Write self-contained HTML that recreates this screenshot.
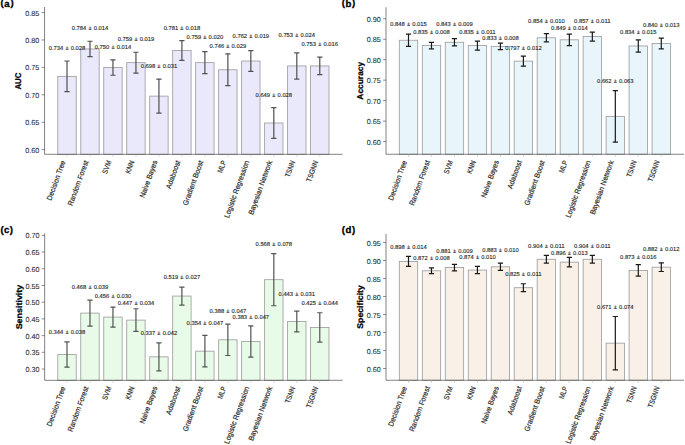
<!DOCTYPE html>
<html><head><meta charset="utf-8"><style>
html,body{margin:0;padding:0;background:#fff;}
svg{display:block;font-family:"Liberation Sans",sans-serif;text-rendering:geometricPrecision;}
</style></head><body>
<svg width="685" height="445" viewBox="0 0 685 445">
<style>.t{stroke:#262626;stroke-width:0.18px;} .v{stroke:#262626;stroke-width:0.12px;} .k{stroke:#262626;stroke-width:0.06px;}</style>
<rect width="685" height="445" fill="#fff"/>
<rect x="57.80" y="76.36" width="18.40" height="77.94" fill="#eae8fb" stroke="#999" stroke-width="0.8"/>
<rect x="80.78" y="48.94" width="18.40" height="105.36" fill="#eae8fb" stroke="#999" stroke-width="0.8"/>
<rect x="103.76" y="67.59" width="18.40" height="86.71" fill="#eae8fb" stroke="#999" stroke-width="0.8"/>
<rect x="126.74" y="62.65" width="18.40" height="91.65" fill="#eae8fb" stroke="#999" stroke-width="0.8"/>
<rect x="149.72" y="96.11" width="18.40" height="58.19" fill="#eae8fb" stroke="#999" stroke-width="0.8"/>
<rect x="172.70" y="50.58" width="18.40" height="103.72" fill="#eae8fb" stroke="#999" stroke-width="0.8"/>
<rect x="195.68" y="62.65" width="18.40" height="91.65" fill="#eae8fb" stroke="#999" stroke-width="0.8"/>
<rect x="218.66" y="69.78" width="18.40" height="84.52" fill="#eae8fb" stroke="#999" stroke-width="0.8"/>
<rect x="241.64" y="61.01" width="18.40" height="93.29" fill="#eae8fb" stroke="#999" stroke-width="0.8"/>
<rect x="264.62" y="122.99" width="18.40" height="31.31" fill="#eae8fb" stroke="#999" stroke-width="0.8"/>
<rect x="287.60" y="65.94" width="18.40" height="88.36" fill="#eae8fb" stroke="#999" stroke-width="0.8"/>
<rect x="310.58" y="65.94" width="18.40" height="88.36" fill="#eae8fb" stroke="#999" stroke-width="0.8"/>
<path d="M67.00 61.01V91.72M64.40 61.01H69.60M64.40 91.72H69.60" stroke="#505050" stroke-width="1.2" fill="none"/>
<path d="M89.98 41.26V56.62M87.38 41.26H92.58M87.38 56.62H92.58" stroke="#505050" stroke-width="1.2" fill="none"/>
<path d="M112.96 59.91V75.27M110.36 59.91H115.56M110.36 75.27H115.56" stroke="#505050" stroke-width="1.2" fill="none"/>
<path d="M135.94 52.23V73.07M133.34 52.23H138.54M133.34 73.07H138.54" stroke="#505050" stroke-width="1.2" fill="none"/>
<path d="M158.92 79.11V113.11M156.32 79.11H161.52M156.32 113.11H161.52" stroke="#505050" stroke-width="1.2" fill="none"/>
<path d="M181.90 40.71V60.46M179.30 40.71H184.50M179.30 60.46H184.50" stroke="#505050" stroke-width="1.2" fill="none"/>
<path d="M204.88 51.68V73.62M202.28 51.68H207.48M202.28 73.62H207.48" stroke="#505050" stroke-width="1.2" fill="none"/>
<path d="M227.86 53.87V85.69M225.26 53.87H230.46M225.26 85.69H230.46" stroke="#505050" stroke-width="1.2" fill="none"/>
<path d="M250.84 50.58V71.43M248.24 50.58H253.44M248.24 71.43H253.44" stroke="#505050" stroke-width="1.2" fill="none"/>
<path d="M273.82 107.63V138.34M271.22 107.63H276.42M271.22 138.34H276.42" stroke="#505050" stroke-width="1.2" fill="none"/>
<path d="M296.80 52.78V79.11M294.20 52.78H299.40M294.20 79.11H299.40" stroke="#505050" stroke-width="1.2" fill="none"/>
<path d="M319.78 57.17V74.72M317.18 57.17H322.38M317.18 74.72H322.38" stroke="#505050" stroke-width="1.2" fill="none"/>
<path d="M44.55 7.00V154.30H342.55" stroke="#404040" stroke-width="0.65" fill="none"/>
<path d="M41.65 149.66H44.55" stroke="#404040" stroke-width="0.6"/>
<text x="39.35" y="152.66" text-anchor="end" font-size="7.35" textLength="14.03" lengthAdjust="spacingAndGlyphs" fill="#262626" class="k">0.60</text>
<path d="M41.65 122.24H44.55" stroke="#404040" stroke-width="0.6"/>
<text x="39.35" y="125.24" text-anchor="end" font-size="7.35" textLength="14.03" lengthAdjust="spacingAndGlyphs" fill="#262626" class="k">0.65</text>
<path d="M41.65 94.81H44.55" stroke="#404040" stroke-width="0.6"/>
<text x="39.35" y="97.81" text-anchor="end" font-size="7.35" textLength="14.03" lengthAdjust="spacingAndGlyphs" fill="#262626" class="k">0.70</text>
<path d="M41.65 67.39H44.55" stroke="#404040" stroke-width="0.6"/>
<text x="39.35" y="70.39" text-anchor="end" font-size="7.35" textLength="14.03" lengthAdjust="spacingAndGlyphs" fill="#262626" class="k">0.75</text>
<path d="M41.65 39.96H44.55" stroke="#404040" stroke-width="0.6"/>
<text x="39.35" y="42.96" text-anchor="end" font-size="7.35" textLength="14.03" lengthAdjust="spacingAndGlyphs" fill="#262626" class="k">0.80</text>
<path d="M41.65 12.54H44.55" stroke="#404040" stroke-width="0.6"/>
<text x="39.35" y="15.54" text-anchor="end" font-size="7.35" textLength="14.03" lengthAdjust="spacingAndGlyphs" fill="#262626" class="k">0.85</text>
<path d="M67.00 154.30V156.50" stroke="#b0b0b0" stroke-width="0.7"/>
<text transform="translate(65.60 161.60) rotate(-70)" text-anchor="end" font-size="7.4" textLength="41.95" lengthAdjust="spacingAndGlyphs" fill="#262626" class="t">Decision Tree</text>
<path d="M89.98 154.30V156.50" stroke="#b0b0b0" stroke-width="0.7"/>
<text transform="translate(88.58 161.60) rotate(-70)" text-anchor="end" font-size="7.4" textLength="47.42" lengthAdjust="spacingAndGlyphs" fill="#262626" class="t">Random Forest</text>
<path d="M112.96 154.30V156.50" stroke="#b0b0b0" stroke-width="0.7"/>
<text transform="translate(111.56 161.60) rotate(-70)" text-anchor="end" font-size="7.4" textLength="13.74" lengthAdjust="spacingAndGlyphs" fill="#262626" class="t">SVM</text>
<path d="M135.94 154.30V156.50" stroke="#b0b0b0" stroke-width="0.7"/>
<text transform="translate(134.54 161.60) rotate(-70)" text-anchor="end" font-size="7.4" textLength="13.56" lengthAdjust="spacingAndGlyphs" fill="#262626" class="t">KNN</text>
<path d="M158.92 154.30V156.50" stroke="#b0b0b0" stroke-width="0.7"/>
<text transform="translate(157.52 161.60) rotate(-70)" text-anchor="end" font-size="7.4" textLength="39.00" lengthAdjust="spacingAndGlyphs" fill="#262626" class="t">Naive Bayes</text>
<path d="M181.90 154.30V156.50" stroke="#b0b0b0" stroke-width="0.7"/>
<text transform="translate(180.50 161.60) rotate(-70)" text-anchor="end" font-size="7.4" textLength="29.52" lengthAdjust="spacingAndGlyphs" fill="#262626" class="t">Adaboost</text>
<path d="M204.88 154.30V156.50" stroke="#b0b0b0" stroke-width="0.7"/>
<text transform="translate(203.48 161.60) rotate(-70)" text-anchor="end" font-size="7.4" textLength="47.21" lengthAdjust="spacingAndGlyphs" fill="#262626" class="t">Gradient Boost</text>
<path d="M227.86 154.30V156.50" stroke="#b0b0b0" stroke-width="0.7"/>
<text transform="translate(226.46 161.60) rotate(-70)" text-anchor="end" font-size="7.4" textLength="12.74" lengthAdjust="spacingAndGlyphs" fill="#262626" class="t">MLP</text>
<path d="M250.84 154.30V156.50" stroke="#b0b0b0" stroke-width="0.7"/>
<text transform="translate(249.44 161.60) rotate(-70)" text-anchor="end" font-size="7.4" textLength="60.43" lengthAdjust="spacingAndGlyphs" fill="#262626" class="t">Logistic Regression</text>
<path d="M273.82 154.30V156.50" stroke="#b0b0b0" stroke-width="0.7"/>
<text transform="translate(272.42 161.60) rotate(-70)" text-anchor="end" font-size="7.4" textLength="56.98" lengthAdjust="spacingAndGlyphs" fill="#262626" class="t">Bayesian Network</text>
<path d="M296.80 154.30V156.50" stroke="#b0b0b0" stroke-width="0.7"/>
<text transform="translate(295.40 161.60) rotate(-70)" text-anchor="end" font-size="7.4" textLength="17.27" lengthAdjust="spacingAndGlyphs" fill="#262626" class="t">TSNN</text>
<path d="M319.78 154.30V156.50" stroke="#b0b0b0" stroke-width="0.7"/>
<text transform="translate(318.38 161.60) rotate(-70)" text-anchor="end" font-size="7.4" textLength="22.15" lengthAdjust="spacingAndGlyphs" fill="#262626" class="t">TSGNN</text>
<g fill="#262626" font-size="5.7" class="v"><text x="48.75" y="49.50" textLength="14.51" lengthAdjust="spacingAndGlyphs">0.734</text><text x="67.00" y="49.50" text-anchor="middle">±</text><text x="70.74" y="49.50" textLength="14.51" lengthAdjust="spacingAndGlyphs">0.028</text></g>
<g fill="#262626" font-size="5.7" class="v"><text x="71.73" y="30.20" textLength="14.51" lengthAdjust="spacingAndGlyphs">0.784</text><text x="89.98" y="30.20" text-anchor="middle">±</text><text x="93.72" y="30.20" textLength="14.51" lengthAdjust="spacingAndGlyphs">0.014</text></g>
<g fill="#262626" font-size="5.7" class="v"><text x="94.71" y="49.20" textLength="14.51" lengthAdjust="spacingAndGlyphs">0.750</text><text x="112.96" y="49.20" text-anchor="middle">±</text><text x="116.70" y="49.20" textLength="14.51" lengthAdjust="spacingAndGlyphs">0.014</text></g>
<g fill="#262626" font-size="5.7" class="v"><text x="117.69" y="41.20" textLength="14.51" lengthAdjust="spacingAndGlyphs">0.759</text><text x="135.94" y="41.20" text-anchor="middle">±</text><text x="139.68" y="41.20" textLength="14.51" lengthAdjust="spacingAndGlyphs">0.019</text></g>
<g fill="#262626" font-size="5.7" class="v"><text x="140.67" y="68.20" textLength="14.51" lengthAdjust="spacingAndGlyphs">0.698</text><text x="158.92" y="68.20" text-anchor="middle">±</text><text x="162.66" y="68.20" textLength="14.51" lengthAdjust="spacingAndGlyphs">0.031</text></g>
<g fill="#262626" font-size="5.7" class="v"><text x="163.65" y="29.80" textLength="14.51" lengthAdjust="spacingAndGlyphs">0.781</text><text x="181.90" y="29.80" text-anchor="middle">±</text><text x="185.64" y="29.80" textLength="14.51" lengthAdjust="spacingAndGlyphs">0.018</text></g>
<g fill="#262626" font-size="5.7" class="v"><text x="186.63" y="39.00" textLength="14.51" lengthAdjust="spacingAndGlyphs">0.759</text><text x="204.88" y="39.00" text-anchor="middle">±</text><text x="208.62" y="39.00" textLength="14.51" lengthAdjust="spacingAndGlyphs">0.020</text></g>
<g fill="#262626" font-size="5.7" class="v"><text x="209.61" y="48.40" textLength="14.51" lengthAdjust="spacingAndGlyphs">0.746</text><text x="227.86" y="48.40" text-anchor="middle">±</text><text x="231.60" y="48.40" textLength="14.51" lengthAdjust="spacingAndGlyphs">0.029</text></g>
<g fill="#262626" font-size="5.7" class="v"><text x="232.59" y="38.00" textLength="14.51" lengthAdjust="spacingAndGlyphs">0.762</text><text x="250.84" y="38.00" text-anchor="middle">±</text><text x="254.58" y="38.00" textLength="14.51" lengthAdjust="spacingAndGlyphs">0.019</text></g>
<g fill="#262626" font-size="5.7" class="v"><text x="255.57" y="97.00" textLength="14.51" lengthAdjust="spacingAndGlyphs">0.649</text><text x="273.82" y="97.00" text-anchor="middle">±</text><text x="277.56" y="97.00" textLength="14.51" lengthAdjust="spacingAndGlyphs">0.028</text></g>
<g fill="#262626" font-size="5.7" class="v"><text x="278.55" y="37.40" textLength="14.51" lengthAdjust="spacingAndGlyphs">0.753</text><text x="296.80" y="37.40" text-anchor="middle">±</text><text x="300.54" y="37.40" textLength="14.51" lengthAdjust="spacingAndGlyphs">0.024</text></g>
<g fill="#262626" font-size="5.7" class="v"><text x="301.53" y="46.30" textLength="14.51" lengthAdjust="spacingAndGlyphs">0.753</text><text x="319.78" y="46.30" text-anchor="middle">±</text><text x="323.52" y="46.30" textLength="14.51" lengthAdjust="spacingAndGlyphs">0.016</text></g>
<text transform="translate(21.45 81.10) rotate(-90)" text-anchor="middle" font-size="8.4" font-weight="bold" textLength="17.03" lengthAdjust="spacingAndGlyphs" fill="#000" stroke="#000" stroke-width="0.25">AUC</text>
<rect x="399.30" y="40.24" width="18.40" height="114.01" fill="#e8f6fb" stroke="#999" stroke-width="0.8"/>
<rect x="422.28" y="45.57" width="18.40" height="108.68" fill="#e8f6fb" stroke="#999" stroke-width="0.8"/>
<rect x="445.26" y="42.29" width="18.40" height="111.96" fill="#e8f6fb" stroke="#999" stroke-width="0.8"/>
<rect x="468.24" y="45.57" width="18.40" height="108.68" fill="#e8f6fb" stroke="#999" stroke-width="0.8"/>
<rect x="491.22" y="46.38" width="18.40" height="107.87" fill="#e8f6fb" stroke="#999" stroke-width="0.8"/>
<rect x="514.20" y="61.12" width="18.40" height="93.13" fill="#e8f6fb" stroke="#999" stroke-width="0.8"/>
<rect x="537.18" y="37.79" width="18.40" height="116.46" fill="#e8f6fb" stroke="#999" stroke-width="0.8"/>
<rect x="560.16" y="39.83" width="18.40" height="114.42" fill="#e8f6fb" stroke="#999" stroke-width="0.8"/>
<rect x="583.14" y="36.56" width="18.40" height="117.69" fill="#e8f6fb" stroke="#999" stroke-width="0.8"/>
<rect x="606.12" y="116.37" width="18.40" height="37.88" fill="#e8f6fb" stroke="#999" stroke-width="0.8"/>
<rect x="629.10" y="45.97" width="18.40" height="108.28" fill="#e8f6fb" stroke="#999" stroke-width="0.8"/>
<rect x="652.08" y="43.52" width="18.40" height="110.73" fill="#e8f6fb" stroke="#999" stroke-width="0.8"/>
<path d="M408.50 34.10V46.38M405.90 34.10H411.10M405.90 46.38H411.10" stroke="#1a1a1a" stroke-width="1.2" fill="none"/>
<path d="M431.48 42.29V48.84M428.88 42.29H434.08M428.88 48.84H434.08" stroke="#1a1a1a" stroke-width="1.2" fill="none"/>
<path d="M454.46 38.61V45.97M451.86 38.61H457.06M451.86 45.97H457.06" stroke="#1a1a1a" stroke-width="1.2" fill="none"/>
<path d="M477.44 41.06V50.07M474.84 41.06H480.04M474.84 50.07H480.04" stroke="#1a1a1a" stroke-width="1.2" fill="none"/>
<path d="M500.42 43.11V49.66M497.82 43.11H503.02M497.82 49.66H503.02" stroke="#1a1a1a" stroke-width="1.2" fill="none"/>
<path d="M523.40 56.21V66.03M520.80 56.21H526.00M520.80 66.03H526.00" stroke="#1a1a1a" stroke-width="1.2" fill="none"/>
<path d="M546.38 33.70V41.88M543.78 33.70H548.98M543.78 41.88H548.98" stroke="#1a1a1a" stroke-width="1.2" fill="none"/>
<path d="M569.36 34.10V45.57M566.76 34.10H571.96M566.76 45.57H571.96" stroke="#1a1a1a" stroke-width="1.2" fill="none"/>
<path d="M592.34 32.06V41.06M589.74 32.06H594.94M589.74 41.06H594.94" stroke="#1a1a1a" stroke-width="1.2" fill="none"/>
<path d="M615.32 90.59V142.16M612.72 90.59H617.92M612.72 142.16H617.92" stroke="#1a1a1a" stroke-width="1.2" fill="none"/>
<path d="M638.30 39.83V52.11M635.70 39.83H640.90M635.70 52.11H640.90" stroke="#1a1a1a" stroke-width="1.2" fill="none"/>
<path d="M661.28 38.20V48.84M658.68 38.20H663.88M658.68 48.84H663.88" stroke="#1a1a1a" stroke-width="1.2" fill="none"/>
<path d="M386.00 7.20V154.25H684.00" stroke="#404040" stroke-width="0.65" fill="none"/>
<path d="M383.10 141.55H386.00" stroke="#404040" stroke-width="0.6"/>
<text x="380.80" y="144.55" text-anchor="end" font-size="7.35" textLength="14.03" lengthAdjust="spacingAndGlyphs" fill="#262626" class="k">0.60</text>
<path d="M383.10 121.09H386.00" stroke="#404040" stroke-width="0.6"/>
<text x="380.80" y="124.09" text-anchor="end" font-size="7.35" textLength="14.03" lengthAdjust="spacingAndGlyphs" fill="#262626" class="k">0.65</text>
<path d="M383.10 100.62H386.00" stroke="#404040" stroke-width="0.6"/>
<text x="380.80" y="103.62" text-anchor="end" font-size="7.35" textLength="14.03" lengthAdjust="spacingAndGlyphs" fill="#262626" class="k">0.70</text>
<path d="M383.10 80.16H386.00" stroke="#404040" stroke-width="0.6"/>
<text x="380.80" y="83.16" text-anchor="end" font-size="7.35" textLength="14.03" lengthAdjust="spacingAndGlyphs" fill="#262626" class="k">0.75</text>
<path d="M383.10 59.69H386.00" stroke="#404040" stroke-width="0.6"/>
<text x="380.80" y="62.69" text-anchor="end" font-size="7.35" textLength="14.03" lengthAdjust="spacingAndGlyphs" fill="#262626" class="k">0.80</text>
<path d="M383.10 39.23H386.00" stroke="#404040" stroke-width="0.6"/>
<text x="380.80" y="42.23" text-anchor="end" font-size="7.35" textLength="14.03" lengthAdjust="spacingAndGlyphs" fill="#262626" class="k">0.85</text>
<path d="M383.10 18.76H386.00" stroke="#404040" stroke-width="0.6"/>
<text x="380.80" y="21.76" text-anchor="end" font-size="7.35" textLength="14.03" lengthAdjust="spacingAndGlyphs" fill="#262626" class="k">0.90</text>
<path d="M408.50 154.25V156.45" stroke="#b0b0b0" stroke-width="0.7"/>
<text transform="translate(407.10 161.55) rotate(-70)" text-anchor="end" font-size="7.4" textLength="41.95" lengthAdjust="spacingAndGlyphs" fill="#262626" class="t">Decision Tree</text>
<path d="M431.48 154.25V156.45" stroke="#b0b0b0" stroke-width="0.7"/>
<text transform="translate(430.08 161.55) rotate(-70)" text-anchor="end" font-size="7.4" textLength="47.42" lengthAdjust="spacingAndGlyphs" fill="#262626" class="t">Random Forest</text>
<path d="M454.46 154.25V156.45" stroke="#b0b0b0" stroke-width="0.7"/>
<text transform="translate(453.06 161.55) rotate(-70)" text-anchor="end" font-size="7.4" textLength="13.74" lengthAdjust="spacingAndGlyphs" fill="#262626" class="t">SVM</text>
<path d="M477.44 154.25V156.45" stroke="#b0b0b0" stroke-width="0.7"/>
<text transform="translate(476.04 161.55) rotate(-70)" text-anchor="end" font-size="7.4" textLength="13.56" lengthAdjust="spacingAndGlyphs" fill="#262626" class="t">KNN</text>
<path d="M500.42 154.25V156.45" stroke="#b0b0b0" stroke-width="0.7"/>
<text transform="translate(499.02 161.55) rotate(-70)" text-anchor="end" font-size="7.4" textLength="39.00" lengthAdjust="spacingAndGlyphs" fill="#262626" class="t">Naive Bayes</text>
<path d="M523.40 154.25V156.45" stroke="#b0b0b0" stroke-width="0.7"/>
<text transform="translate(522.00 161.55) rotate(-70)" text-anchor="end" font-size="7.4" textLength="29.52" lengthAdjust="spacingAndGlyphs" fill="#262626" class="t">Adaboost</text>
<path d="M546.38 154.25V156.45" stroke="#b0b0b0" stroke-width="0.7"/>
<text transform="translate(544.98 161.55) rotate(-70)" text-anchor="end" font-size="7.4" textLength="47.21" lengthAdjust="spacingAndGlyphs" fill="#262626" class="t">Gradient Boost</text>
<path d="M569.36 154.25V156.45" stroke="#b0b0b0" stroke-width="0.7"/>
<text transform="translate(567.96 161.55) rotate(-70)" text-anchor="end" font-size="7.4" textLength="12.74" lengthAdjust="spacingAndGlyphs" fill="#262626" class="t">MLP</text>
<path d="M592.34 154.25V156.45" stroke="#b0b0b0" stroke-width="0.7"/>
<text transform="translate(590.94 161.55) rotate(-70)" text-anchor="end" font-size="7.4" textLength="60.43" lengthAdjust="spacingAndGlyphs" fill="#262626" class="t">Logistic Regression</text>
<path d="M615.32 154.25V156.45" stroke="#b0b0b0" stroke-width="0.7"/>
<text transform="translate(613.92 161.55) rotate(-70)" text-anchor="end" font-size="7.4" textLength="56.98" lengthAdjust="spacingAndGlyphs" fill="#262626" class="t">Bayesian Network</text>
<path d="M638.30 154.25V156.45" stroke="#b0b0b0" stroke-width="0.7"/>
<text transform="translate(636.90 161.55) rotate(-70)" text-anchor="end" font-size="7.4" textLength="17.27" lengthAdjust="spacingAndGlyphs" fill="#262626" class="t">TSNN</text>
<path d="M661.28 154.25V156.45" stroke="#b0b0b0" stroke-width="0.7"/>
<text transform="translate(659.88 161.55) rotate(-70)" text-anchor="end" font-size="7.4" textLength="22.15" lengthAdjust="spacingAndGlyphs" fill="#262626" class="t">TSGNN</text>
<g fill="#262626" font-size="5.7" class="v"><text x="390.25" y="26.00" textLength="14.51" lengthAdjust="spacingAndGlyphs">0.848</text><text x="408.50" y="26.00" text-anchor="middle">±</text><text x="412.24" y="26.00" textLength="14.51" lengthAdjust="spacingAndGlyphs">0.015</text></g>
<g fill="#262626" font-size="5.7" class="v"><text x="413.23" y="34.00" textLength="14.51" lengthAdjust="spacingAndGlyphs">0.835</text><text x="431.48" y="34.00" text-anchor="middle">±</text><text x="435.22" y="34.00" textLength="14.51" lengthAdjust="spacingAndGlyphs">0.008</text></g>
<g fill="#262626" font-size="5.7" class="v"><text x="436.21" y="26.20" textLength="14.51" lengthAdjust="spacingAndGlyphs">0.843</text><text x="454.46" y="26.20" text-anchor="middle">±</text><text x="458.20" y="26.20" textLength="14.51" lengthAdjust="spacingAndGlyphs">0.009</text></g>
<g fill="#262626" font-size="5.7" class="v"><text x="459.19" y="34.00" textLength="14.51" lengthAdjust="spacingAndGlyphs">0.835</text><text x="477.44" y="34.00" text-anchor="middle">±</text><text x="481.18" y="34.00" textLength="14.51" lengthAdjust="spacingAndGlyphs">0.011</text></g>
<g fill="#262626" font-size="5.7" class="v"><text x="482.17" y="39.80" textLength="14.51" lengthAdjust="spacingAndGlyphs">0.833</text><text x="500.42" y="39.80" text-anchor="middle">±</text><text x="504.16" y="39.80" textLength="14.51" lengthAdjust="spacingAndGlyphs">0.008</text></g>
<g fill="#262626" font-size="5.7" class="v"><text x="505.15" y="50.00" textLength="14.51" lengthAdjust="spacingAndGlyphs">0.797</text><text x="523.40" y="50.00" text-anchor="middle">±</text><text x="527.14" y="50.00" textLength="14.51" lengthAdjust="spacingAndGlyphs">0.012</text></g>
<g fill="#262626" font-size="5.7" class="v"><text x="528.13" y="23.30" textLength="14.51" lengthAdjust="spacingAndGlyphs">0.854</text><text x="546.38" y="23.30" text-anchor="middle">±</text><text x="550.12" y="23.30" textLength="14.51" lengthAdjust="spacingAndGlyphs">0.010</text></g>
<g fill="#262626" font-size="5.7" class="v"><text x="551.11" y="30.00" textLength="14.51" lengthAdjust="spacingAndGlyphs">0.849</text><text x="569.36" y="30.00" text-anchor="middle">±</text><text x="573.10" y="30.00" textLength="14.51" lengthAdjust="spacingAndGlyphs">0.014</text></g>
<g fill="#262626" font-size="5.7" class="v"><text x="574.09" y="23.00" textLength="14.51" lengthAdjust="spacingAndGlyphs">0.857</text><text x="592.34" y="23.00" text-anchor="middle">±</text><text x="596.08" y="23.00" textLength="14.51" lengthAdjust="spacingAndGlyphs">0.011</text></g>
<g fill="#262626" font-size="5.7" class="v"><text x="597.07" y="82.50" textLength="14.51" lengthAdjust="spacingAndGlyphs">0.662</text><text x="615.32" y="82.50" text-anchor="middle">±</text><text x="619.06" y="82.50" textLength="14.51" lengthAdjust="spacingAndGlyphs">0.063</text></g>
<g fill="#262626" font-size="5.7" class="v"><text x="620.05" y="34.00" textLength="14.51" lengthAdjust="spacingAndGlyphs">0.834</text><text x="638.30" y="34.00" text-anchor="middle">±</text><text x="642.04" y="34.00" textLength="14.51" lengthAdjust="spacingAndGlyphs">0.015</text></g>
<g fill="#262626" font-size="5.7" class="v"><text x="643.03" y="27.00" textLength="14.51" lengthAdjust="spacingAndGlyphs">0.840</text><text x="661.28" y="27.00" text-anchor="middle">±</text><text x="665.02" y="27.00" textLength="14.51" lengthAdjust="spacingAndGlyphs">0.013</text></g>
<text transform="translate(362.90 80.77) rotate(-90)" text-anchor="middle" font-size="8.4" font-weight="bold" textLength="37.83" lengthAdjust="spacingAndGlyphs" fill="#000" stroke="#000" stroke-width="0.25">Accuracy</text>
<rect x="57.80" y="354.51" width="18.40" height="25.79" fill="#e8fbe8" stroke="#999" stroke-width="0.8"/>
<rect x="80.78" y="313.10" width="18.40" height="67.20" fill="#e8fbe8" stroke="#999" stroke-width="0.8"/>
<rect x="103.76" y="317.10" width="18.40" height="63.20" fill="#e8fbe8" stroke="#999" stroke-width="0.8"/>
<rect x="126.74" y="320.11" width="18.40" height="60.19" fill="#e8fbe8" stroke="#999" stroke-width="0.8"/>
<rect x="149.72" y="356.85" width="18.40" height="23.45" fill="#e8fbe8" stroke="#999" stroke-width="0.8"/>
<rect x="172.70" y="296.06" width="18.40" height="84.24" fill="#e8fbe8" stroke="#999" stroke-width="0.8"/>
<rect x="195.68" y="351.17" width="18.40" height="29.13" fill="#e8fbe8" stroke="#999" stroke-width="0.8"/>
<rect x="218.66" y="339.82" width="18.40" height="40.48" fill="#e8fbe8" stroke="#999" stroke-width="0.8"/>
<rect x="241.64" y="341.49" width="18.40" height="38.81" fill="#e8fbe8" stroke="#999" stroke-width="0.8"/>
<rect x="264.62" y="279.69" width="18.40" height="100.61" fill="#e8fbe8" stroke="#999" stroke-width="0.8"/>
<rect x="287.60" y="321.45" width="18.40" height="58.85" fill="#e8fbe8" stroke="#999" stroke-width="0.8"/>
<rect x="310.58" y="327.46" width="18.40" height="52.84" fill="#e8fbe8" stroke="#999" stroke-width="0.8"/>
<path d="M67.00 341.82V367.21M64.40 341.82H69.60M64.40 367.21H69.60" stroke="#505550" stroke-width="1.2" fill="none"/>
<path d="M89.98 300.07V326.12M87.38 300.07H92.58M87.38 326.12H92.58" stroke="#505550" stroke-width="1.2" fill="none"/>
<path d="M112.96 307.08V327.12M110.36 307.08H115.56M110.36 327.12H115.56" stroke="#505550" stroke-width="1.2" fill="none"/>
<path d="M135.94 308.75V331.47M133.34 308.75H138.54M133.34 331.47H138.54" stroke="#505550" stroke-width="1.2" fill="none"/>
<path d="M158.92 342.82V370.88M156.32 342.82H161.52M156.32 370.88H161.52" stroke="#505550" stroke-width="1.2" fill="none"/>
<path d="M181.90 287.04V305.08M179.30 287.04H184.50M179.30 305.08H184.50" stroke="#505550" stroke-width="1.2" fill="none"/>
<path d="M204.88 335.47V366.87M202.28 335.47H207.48M202.28 366.87H207.48" stroke="#505550" stroke-width="1.2" fill="none"/>
<path d="M227.86 324.12V355.51M225.26 324.12H230.46M225.26 355.51H230.46" stroke="#505550" stroke-width="1.2" fill="none"/>
<path d="M250.84 325.79V357.19M248.24 325.79H253.44M248.24 357.19H253.44" stroke="#505550" stroke-width="1.2" fill="none"/>
<path d="M273.82 253.64V305.75M271.22 253.64H276.42M271.22 305.75H276.42" stroke="#505550" stroke-width="1.2" fill="none"/>
<path d="M296.80 311.09V331.80M294.20 311.09H299.40M294.20 331.80H299.40" stroke="#505550" stroke-width="1.2" fill="none"/>
<path d="M319.78 312.76V342.15M317.18 312.76H322.38M317.18 342.15H322.38" stroke="#505550" stroke-width="1.2" fill="none"/>
<path d="M44.65 233.30V380.30H342.65" stroke="#404040" stroke-width="0.65" fill="none"/>
<path d="M41.75 369.01H44.65" stroke="#404040" stroke-width="0.6"/>
<text x="39.45" y="372.01" text-anchor="end" font-size="7.35" textLength="14.03" lengthAdjust="spacingAndGlyphs" fill="#262626" class="k">0.30</text>
<path d="M41.75 352.31H44.65" stroke="#404040" stroke-width="0.6"/>
<text x="39.45" y="355.31" text-anchor="end" font-size="7.35" textLength="14.03" lengthAdjust="spacingAndGlyphs" fill="#262626" class="k">0.35</text>
<path d="M41.75 335.61H44.65" stroke="#404040" stroke-width="0.6"/>
<text x="39.45" y="338.61" text-anchor="end" font-size="7.35" textLength="14.03" lengthAdjust="spacingAndGlyphs" fill="#262626" class="k">0.40</text>
<path d="M41.75 318.91H44.65" stroke="#404040" stroke-width="0.6"/>
<text x="39.45" y="321.91" text-anchor="end" font-size="7.35" textLength="14.03" lengthAdjust="spacingAndGlyphs" fill="#262626" class="k">0.45</text>
<path d="M41.75 302.21H44.65" stroke="#404040" stroke-width="0.6"/>
<text x="39.45" y="305.21" text-anchor="end" font-size="7.35" textLength="14.03" lengthAdjust="spacingAndGlyphs" fill="#262626" class="k">0.50</text>
<path d="M41.75 285.51H44.65" stroke="#404040" stroke-width="0.6"/>
<text x="39.45" y="288.51" text-anchor="end" font-size="7.35" textLength="14.03" lengthAdjust="spacingAndGlyphs" fill="#262626" class="k">0.55</text>
<path d="M41.75 268.81H44.65" stroke="#404040" stroke-width="0.6"/>
<text x="39.45" y="271.81" text-anchor="end" font-size="7.35" textLength="14.03" lengthAdjust="spacingAndGlyphs" fill="#262626" class="k">0.60</text>
<path d="M41.75 252.10H44.65" stroke="#404040" stroke-width="0.6"/>
<text x="39.45" y="255.10" text-anchor="end" font-size="7.35" textLength="14.03" lengthAdjust="spacingAndGlyphs" fill="#262626" class="k">0.65</text>
<path d="M41.75 235.40H44.65" stroke="#404040" stroke-width="0.6"/>
<text x="39.45" y="238.40" text-anchor="end" font-size="7.35" textLength="14.03" lengthAdjust="spacingAndGlyphs" fill="#262626" class="k">0.70</text>
<path d="M67.00 380.30V382.50" stroke="#b0b0b0" stroke-width="0.7"/>
<text transform="translate(65.60 387.60) rotate(-70)" text-anchor="end" font-size="7.4" textLength="41.95" lengthAdjust="spacingAndGlyphs" fill="#262626" class="t">Decision Tree</text>
<path d="M89.98 380.30V382.50" stroke="#b0b0b0" stroke-width="0.7"/>
<text transform="translate(88.58 387.60) rotate(-70)" text-anchor="end" font-size="7.4" textLength="47.42" lengthAdjust="spacingAndGlyphs" fill="#262626" class="t">Random Forest</text>
<path d="M112.96 380.30V382.50" stroke="#b0b0b0" stroke-width="0.7"/>
<text transform="translate(111.56 387.60) rotate(-70)" text-anchor="end" font-size="7.4" textLength="13.74" lengthAdjust="spacingAndGlyphs" fill="#262626" class="t">SVM</text>
<path d="M135.94 380.30V382.50" stroke="#b0b0b0" stroke-width="0.7"/>
<text transform="translate(134.54 387.60) rotate(-70)" text-anchor="end" font-size="7.4" textLength="13.56" lengthAdjust="spacingAndGlyphs" fill="#262626" class="t">KNN</text>
<path d="M158.92 380.30V382.50" stroke="#b0b0b0" stroke-width="0.7"/>
<text transform="translate(157.52 387.60) rotate(-70)" text-anchor="end" font-size="7.4" textLength="39.00" lengthAdjust="spacingAndGlyphs" fill="#262626" class="t">Naive Bayes</text>
<path d="M181.90 380.30V382.50" stroke="#b0b0b0" stroke-width="0.7"/>
<text transform="translate(180.50 387.60) rotate(-70)" text-anchor="end" font-size="7.4" textLength="29.52" lengthAdjust="spacingAndGlyphs" fill="#262626" class="t">Adaboost</text>
<path d="M204.88 380.30V382.50" stroke="#b0b0b0" stroke-width="0.7"/>
<text transform="translate(203.48 387.60) rotate(-70)" text-anchor="end" font-size="7.4" textLength="47.21" lengthAdjust="spacingAndGlyphs" fill="#262626" class="t">Gradient Boost</text>
<path d="M227.86 380.30V382.50" stroke="#b0b0b0" stroke-width="0.7"/>
<text transform="translate(226.46 387.60) rotate(-70)" text-anchor="end" font-size="7.4" textLength="12.74" lengthAdjust="spacingAndGlyphs" fill="#262626" class="t">MLP</text>
<path d="M250.84 380.30V382.50" stroke="#b0b0b0" stroke-width="0.7"/>
<text transform="translate(249.44 387.60) rotate(-70)" text-anchor="end" font-size="7.4" textLength="60.43" lengthAdjust="spacingAndGlyphs" fill="#262626" class="t">Logistic Regression</text>
<path d="M273.82 380.30V382.50" stroke="#b0b0b0" stroke-width="0.7"/>
<text transform="translate(272.42 387.60) rotate(-70)" text-anchor="end" font-size="7.4" textLength="56.98" lengthAdjust="spacingAndGlyphs" fill="#262626" class="t">Bayesian Network</text>
<path d="M296.80 380.30V382.50" stroke="#b0b0b0" stroke-width="0.7"/>
<text transform="translate(295.40 387.60) rotate(-70)" text-anchor="end" font-size="7.4" textLength="17.27" lengthAdjust="spacingAndGlyphs" fill="#262626" class="t">TSNN</text>
<path d="M319.78 380.30V382.50" stroke="#b0b0b0" stroke-width="0.7"/>
<text transform="translate(318.38 387.60) rotate(-70)" text-anchor="end" font-size="7.4" textLength="22.15" lengthAdjust="spacingAndGlyphs" fill="#262626" class="t">TSGNN</text>
<g fill="#262626" font-size="5.7" class="v"><text x="48.75" y="333.70" textLength="14.51" lengthAdjust="spacingAndGlyphs">0.344</text><text x="67.00" y="333.70" text-anchor="middle">±</text><text x="70.74" y="333.70" textLength="14.51" lengthAdjust="spacingAndGlyphs">0.038</text></g>
<g fill="#262626" font-size="5.7" class="v"><text x="71.73" y="288.90" textLength="14.51" lengthAdjust="spacingAndGlyphs">0.468</text><text x="89.98" y="288.90" text-anchor="middle">±</text><text x="93.72" y="288.90" textLength="14.51" lengthAdjust="spacingAndGlyphs">0.039</text></g>
<g fill="#262626" font-size="5.7" class="v"><text x="94.71" y="298.10" textLength="14.51" lengthAdjust="spacingAndGlyphs">0.456</text><text x="112.96" y="298.10" text-anchor="middle">±</text><text x="116.70" y="298.10" textLength="14.51" lengthAdjust="spacingAndGlyphs">0.030</text></g>
<g fill="#262626" font-size="5.7" class="v"><text x="117.69" y="304.90" textLength="14.51" lengthAdjust="spacingAndGlyphs">0.447</text><text x="135.94" y="304.90" text-anchor="middle">±</text><text x="139.68" y="304.90" textLength="14.51" lengthAdjust="spacingAndGlyphs">0.034</text></g>
<g fill="#262626" font-size="5.7" class="v"><text x="140.67" y="334.50" textLength="14.51" lengthAdjust="spacingAndGlyphs">0.337</text><text x="158.92" y="334.50" text-anchor="middle">±</text><text x="162.66" y="334.50" textLength="14.51" lengthAdjust="spacingAndGlyphs">0.042</text></g>
<g fill="#262626" font-size="5.7" class="v"><text x="163.65" y="279.20" textLength="14.51" lengthAdjust="spacingAndGlyphs">0.519</text><text x="181.90" y="279.20" text-anchor="middle">±</text><text x="185.64" y="279.20" textLength="14.51" lengthAdjust="spacingAndGlyphs">0.027</text></g>
<g fill="#262626" font-size="5.7" class="v"><text x="186.63" y="324.70" textLength="14.51" lengthAdjust="spacingAndGlyphs">0.354</text><text x="204.88" y="324.70" text-anchor="middle">±</text><text x="208.62" y="324.70" textLength="14.51" lengthAdjust="spacingAndGlyphs">0.047</text></g>
<g fill="#262626" font-size="5.7" class="v"><text x="209.61" y="312.70" textLength="14.51" lengthAdjust="spacingAndGlyphs">0.388</text><text x="227.86" y="312.70" text-anchor="middle">±</text><text x="231.60" y="312.70" textLength="14.51" lengthAdjust="spacingAndGlyphs">0.047</text></g>
<g fill="#262626" font-size="5.7" class="v"><text x="232.59" y="318.60" textLength="14.51" lengthAdjust="spacingAndGlyphs">0.383</text><text x="250.84" y="318.60" text-anchor="middle">±</text><text x="254.58" y="318.60" textLength="14.51" lengthAdjust="spacingAndGlyphs">0.047</text></g>
<g fill="#262626" font-size="5.7" class="v"><text x="255.57" y="246.00" textLength="14.51" lengthAdjust="spacingAndGlyphs">0.568</text><text x="273.82" y="246.00" text-anchor="middle">±</text><text x="277.56" y="246.00" textLength="14.51" lengthAdjust="spacingAndGlyphs">0.078</text></g>
<g fill="#262626" font-size="5.7" class="v"><text x="278.55" y="296.10" textLength="14.51" lengthAdjust="spacingAndGlyphs">0.443</text><text x="296.80" y="296.10" text-anchor="middle">±</text><text x="300.54" y="296.10" textLength="14.51" lengthAdjust="spacingAndGlyphs">0.031</text></g>
<g fill="#262626" font-size="5.7" class="v"><text x="301.53" y="304.70" textLength="14.51" lengthAdjust="spacingAndGlyphs">0.425</text><text x="319.78" y="304.70" text-anchor="middle">±</text><text x="323.52" y="304.70" textLength="14.51" lengthAdjust="spacingAndGlyphs">0.044</text></g>
<text transform="translate(21.55 307.05) rotate(-90)" text-anchor="middle" font-size="8.4" font-weight="bold" textLength="44.59" lengthAdjust="spacingAndGlyphs" fill="#000" stroke="#000" stroke-width="0.25">Sensitivity</text>
<rect x="399.30" y="261.42" width="18.40" height="118.83" fill="#f9f0e7" stroke="#999" stroke-width="0.8"/>
<rect x="422.28" y="270.79" width="18.40" height="109.46" fill="#f9f0e7" stroke="#999" stroke-width="0.8"/>
<rect x="445.26" y="267.54" width="18.40" height="112.71" fill="#f9f0e7" stroke="#999" stroke-width="0.8"/>
<rect x="468.24" y="270.06" width="18.40" height="110.19" fill="#f9f0e7" stroke="#999" stroke-width="0.8"/>
<rect x="491.22" y="266.82" width="18.40" height="113.43" fill="#f9f0e7" stroke="#999" stroke-width="0.8"/>
<rect x="514.20" y="287.71" width="18.40" height="92.54" fill="#f9f0e7" stroke="#999" stroke-width="0.8"/>
<rect x="537.18" y="259.26" width="18.40" height="120.99" fill="#f9f0e7" stroke="#999" stroke-width="0.8"/>
<rect x="560.16" y="262.14" width="18.40" height="118.11" fill="#f9f0e7" stroke="#999" stroke-width="0.8"/>
<rect x="583.14" y="259.26" width="18.40" height="120.99" fill="#f9f0e7" stroke="#999" stroke-width="0.8"/>
<rect x="606.12" y="343.15" width="18.40" height="37.10" fill="#f9f0e7" stroke="#999" stroke-width="0.8"/>
<rect x="629.10" y="270.43" width="18.40" height="109.82" fill="#f9f0e7" stroke="#999" stroke-width="0.8"/>
<rect x="652.08" y="267.18" width="18.40" height="113.07" fill="#f9f0e7" stroke="#999" stroke-width="0.8"/>
<path d="M408.50 256.38V266.46M405.90 256.38H411.10M405.90 266.46H411.10" stroke="#1a1a1a" stroke-width="1.2" fill="none"/>
<path d="M431.48 267.90V273.67M428.88 267.90H434.08M428.88 273.67H434.08" stroke="#1a1a1a" stroke-width="1.2" fill="none"/>
<path d="M454.46 264.30V270.79M451.86 264.30H457.06M451.86 270.79H457.06" stroke="#1a1a1a" stroke-width="1.2" fill="none"/>
<path d="M477.44 266.46V273.67M474.84 266.46H480.04M474.84 273.67H480.04" stroke="#1a1a1a" stroke-width="1.2" fill="none"/>
<path d="M500.42 263.22V270.43M497.82 263.22H503.02M497.82 270.43H503.02" stroke="#1a1a1a" stroke-width="1.2" fill="none"/>
<path d="M523.40 283.75V291.67M520.80 283.75H526.00M520.80 291.67H526.00" stroke="#1a1a1a" stroke-width="1.2" fill="none"/>
<path d="M546.38 255.30V263.22M543.78 255.30H548.98M543.78 263.22H548.98" stroke="#1a1a1a" stroke-width="1.2" fill="none"/>
<path d="M569.36 257.46V266.82M566.76 257.46H571.96M566.76 266.82H571.96" stroke="#1a1a1a" stroke-width="1.2" fill="none"/>
<path d="M592.34 255.30V263.22M589.74 255.30H594.94M589.74 263.22H594.94" stroke="#1a1a1a" stroke-width="1.2" fill="none"/>
<path d="M615.32 316.51V369.80M612.72 316.51H617.92M612.72 369.80H617.92" stroke="#1a1a1a" stroke-width="1.2" fill="none"/>
<path d="M638.30 264.66V276.19M635.70 264.66H640.90M635.70 276.19H640.90" stroke="#1a1a1a" stroke-width="1.2" fill="none"/>
<path d="M661.28 262.86V271.51M658.68 262.86H663.88M658.68 271.51H663.88" stroke="#1a1a1a" stroke-width="1.2" fill="none"/>
<path d="M386.00 234.00V380.25H684.00" stroke="#404040" stroke-width="0.65" fill="none"/>
<path d="M383.10 368.52H386.00" stroke="#404040" stroke-width="0.6"/>
<text x="380.80" y="371.52" text-anchor="end" font-size="7.35" textLength="14.03" lengthAdjust="spacingAndGlyphs" fill="#262626" class="k">0.60</text>
<path d="M383.10 350.52H386.00" stroke="#404040" stroke-width="0.6"/>
<text x="380.80" y="353.52" text-anchor="end" font-size="7.35" textLength="14.03" lengthAdjust="spacingAndGlyphs" fill="#262626" class="k">0.65</text>
<path d="M383.10 332.51H386.00" stroke="#404040" stroke-width="0.6"/>
<text x="380.80" y="335.51" text-anchor="end" font-size="7.35" textLength="14.03" lengthAdjust="spacingAndGlyphs" fill="#262626" class="k">0.70</text>
<path d="M383.10 314.51H386.00" stroke="#404040" stroke-width="0.6"/>
<text x="380.80" y="317.51" text-anchor="end" font-size="7.35" textLength="14.03" lengthAdjust="spacingAndGlyphs" fill="#262626" class="k">0.75</text>
<path d="M383.10 296.51H386.00" stroke="#404040" stroke-width="0.6"/>
<text x="380.80" y="299.51" text-anchor="end" font-size="7.35" textLength="14.03" lengthAdjust="spacingAndGlyphs" fill="#262626" class="k">0.80</text>
<path d="M383.10 278.51H386.00" stroke="#404040" stroke-width="0.6"/>
<text x="380.80" y="281.51" text-anchor="end" font-size="7.35" textLength="14.03" lengthAdjust="spacingAndGlyphs" fill="#262626" class="k">0.85</text>
<path d="M383.10 260.50H386.00" stroke="#404040" stroke-width="0.6"/>
<text x="380.80" y="263.50" text-anchor="end" font-size="7.35" textLength="14.03" lengthAdjust="spacingAndGlyphs" fill="#262626" class="k">0.90</text>
<path d="M383.10 242.50H386.00" stroke="#404040" stroke-width="0.6"/>
<text x="380.80" y="245.50" text-anchor="end" font-size="7.35" textLength="14.03" lengthAdjust="spacingAndGlyphs" fill="#262626" class="k">0.95</text>
<path d="M408.50 380.25V382.45" stroke="#b0b0b0" stroke-width="0.7"/>
<text transform="translate(407.10 387.55) rotate(-70)" text-anchor="end" font-size="7.4" textLength="41.95" lengthAdjust="spacingAndGlyphs" fill="#262626" class="t">Decision Tree</text>
<path d="M431.48 380.25V382.45" stroke="#b0b0b0" stroke-width="0.7"/>
<text transform="translate(430.08 387.55) rotate(-70)" text-anchor="end" font-size="7.4" textLength="47.42" lengthAdjust="spacingAndGlyphs" fill="#262626" class="t">Random Forest</text>
<path d="M454.46 380.25V382.45" stroke="#b0b0b0" stroke-width="0.7"/>
<text transform="translate(453.06 387.55) rotate(-70)" text-anchor="end" font-size="7.4" textLength="13.74" lengthAdjust="spacingAndGlyphs" fill="#262626" class="t">SVM</text>
<path d="M477.44 380.25V382.45" stroke="#b0b0b0" stroke-width="0.7"/>
<text transform="translate(476.04 387.55) rotate(-70)" text-anchor="end" font-size="7.4" textLength="13.56" lengthAdjust="spacingAndGlyphs" fill="#262626" class="t">KNN</text>
<path d="M500.42 380.25V382.45" stroke="#b0b0b0" stroke-width="0.7"/>
<text transform="translate(499.02 387.55) rotate(-70)" text-anchor="end" font-size="7.4" textLength="39.00" lengthAdjust="spacingAndGlyphs" fill="#262626" class="t">Naive Bayes</text>
<path d="M523.40 380.25V382.45" stroke="#b0b0b0" stroke-width="0.7"/>
<text transform="translate(522.00 387.55) rotate(-70)" text-anchor="end" font-size="7.4" textLength="29.52" lengthAdjust="spacingAndGlyphs" fill="#262626" class="t">Adaboost</text>
<path d="M546.38 380.25V382.45" stroke="#b0b0b0" stroke-width="0.7"/>
<text transform="translate(544.98 387.55) rotate(-70)" text-anchor="end" font-size="7.4" textLength="47.21" lengthAdjust="spacingAndGlyphs" fill="#262626" class="t">Gradient Boost</text>
<path d="M569.36 380.25V382.45" stroke="#b0b0b0" stroke-width="0.7"/>
<text transform="translate(567.96 387.55) rotate(-70)" text-anchor="end" font-size="7.4" textLength="12.74" lengthAdjust="spacingAndGlyphs" fill="#262626" class="t">MLP</text>
<path d="M592.34 380.25V382.45" stroke="#b0b0b0" stroke-width="0.7"/>
<text transform="translate(590.94 387.55) rotate(-70)" text-anchor="end" font-size="7.4" textLength="60.43" lengthAdjust="spacingAndGlyphs" fill="#262626" class="t">Logistic Regression</text>
<path d="M615.32 380.25V382.45" stroke="#b0b0b0" stroke-width="0.7"/>
<text transform="translate(613.92 387.55) rotate(-70)" text-anchor="end" font-size="7.4" textLength="56.98" lengthAdjust="spacingAndGlyphs" fill="#262626" class="t">Bayesian Network</text>
<path d="M638.30 380.25V382.45" stroke="#b0b0b0" stroke-width="0.7"/>
<text transform="translate(636.90 387.55) rotate(-70)" text-anchor="end" font-size="7.4" textLength="17.27" lengthAdjust="spacingAndGlyphs" fill="#262626" class="t">TSNN</text>
<path d="M661.28 380.25V382.45" stroke="#b0b0b0" stroke-width="0.7"/>
<text transform="translate(659.88 387.55) rotate(-70)" text-anchor="end" font-size="7.4" textLength="22.15" lengthAdjust="spacingAndGlyphs" fill="#262626" class="t">TSGNN</text>
<g fill="#262626" font-size="5.7" class="v"><text x="390.25" y="248.50" textLength="14.51" lengthAdjust="spacingAndGlyphs">0.898</text><text x="408.50" y="248.50" text-anchor="middle">±</text><text x="412.24" y="248.50" textLength="14.51" lengthAdjust="spacingAndGlyphs">0.014</text></g>
<g fill="#262626" font-size="5.7" class="v"><text x="413.23" y="260.00" textLength="14.51" lengthAdjust="spacingAndGlyphs">0.872</text><text x="431.48" y="260.00" text-anchor="middle">±</text><text x="435.22" y="260.00" textLength="14.51" lengthAdjust="spacingAndGlyphs">0.008</text></g>
<g fill="#262626" font-size="5.7" class="v"><text x="436.21" y="252.70" textLength="14.51" lengthAdjust="spacingAndGlyphs">0.881</text><text x="454.46" y="252.70" text-anchor="middle">±</text><text x="458.20" y="252.70" textLength="14.51" lengthAdjust="spacingAndGlyphs">0.009</text></g>
<g fill="#262626" font-size="5.7" class="v"><text x="459.19" y="258.50" textLength="14.51" lengthAdjust="spacingAndGlyphs">0.874</text><text x="477.44" y="258.50" text-anchor="middle">±</text><text x="481.18" y="258.50" textLength="14.51" lengthAdjust="spacingAndGlyphs">0.010</text></g>
<g fill="#262626" font-size="5.7" class="v"><text x="482.17" y="252.40" textLength="14.51" lengthAdjust="spacingAndGlyphs">0.883</text><text x="500.42" y="252.40" text-anchor="middle">±</text><text x="504.16" y="252.40" textLength="14.51" lengthAdjust="spacingAndGlyphs">0.010</text></g>
<g fill="#262626" font-size="5.7" class="v"><text x="505.15" y="276.10" textLength="14.51" lengthAdjust="spacingAndGlyphs">0.825</text><text x="523.40" y="276.10" text-anchor="middle">±</text><text x="527.14" y="276.10" textLength="14.51" lengthAdjust="spacingAndGlyphs">0.011</text></g>
<g fill="#262626" font-size="5.7" class="v"><text x="528.13" y="247.60" textLength="14.51" lengthAdjust="spacingAndGlyphs">0.904</text><text x="546.38" y="247.60" text-anchor="middle">±</text><text x="550.12" y="247.60" textLength="14.51" lengthAdjust="spacingAndGlyphs">0.011</text></g>
<g fill="#262626" font-size="5.7" class="v"><text x="551.11" y="255.00" textLength="14.51" lengthAdjust="spacingAndGlyphs">0.896</text><text x="569.36" y="255.00" text-anchor="middle">±</text><text x="573.10" y="255.00" textLength="14.51" lengthAdjust="spacingAndGlyphs">0.013</text></g>
<g fill="#262626" font-size="5.7" class="v"><text x="574.09" y="248.00" textLength="14.51" lengthAdjust="spacingAndGlyphs">0.904</text><text x="592.34" y="248.00" text-anchor="middle">±</text><text x="596.08" y="248.00" textLength="14.51" lengthAdjust="spacingAndGlyphs">0.011</text></g>
<g fill="#262626" font-size="5.7" class="v"><text x="597.07" y="308.90" textLength="14.51" lengthAdjust="spacingAndGlyphs">0.671</text><text x="615.32" y="308.90" text-anchor="middle">±</text><text x="619.06" y="308.90" textLength="14.51" lengthAdjust="spacingAndGlyphs">0.074</text></g>
<g fill="#262626" font-size="5.7" class="v"><text x="620.05" y="258.50" textLength="14.51" lengthAdjust="spacingAndGlyphs">0.873</text><text x="638.30" y="258.50" text-anchor="middle">±</text><text x="642.04" y="258.50" textLength="14.51" lengthAdjust="spacingAndGlyphs">0.016</text></g>
<g fill="#262626" font-size="5.7" class="v"><text x="643.03" y="251.30" textLength="14.51" lengthAdjust="spacingAndGlyphs">0.882</text><text x="661.28" y="251.30" text-anchor="middle">±</text><text x="665.02" y="251.30" textLength="14.51" lengthAdjust="spacingAndGlyphs">0.012</text></g>
<text transform="translate(362.90 306.95) rotate(-90)" text-anchor="middle" font-size="8.4" font-weight="bold" textLength="43.57" lengthAdjust="spacingAndGlyphs" fill="#000" stroke="#000" stroke-width="0.25">Specificity</text>
<g font-size="9.6" font-weight="bold" fill="#000" stroke="#000" stroke-width="0.3"><text x="0.50" y="6.30">(</text><text x="7.01" y="7.0" text-anchor="middle">a</text><text x="10.38" y="6.30">)</text></g>
<g font-size="9.6" font-weight="bold" fill="#000" stroke="#000" stroke-width="0.3"><text x="341.80" y="6.30">(</text><text x="348.48" y="7.0" text-anchor="middle">b</text><text x="352.02" y="6.30">)</text></g>
<g font-size="9.6" font-weight="bold" fill="#000" stroke="#000" stroke-width="0.3"><text x="0.50" y="232.60">(</text><text x="6.68" y="233.3" text-anchor="middle">c</text><text x="9.71" y="232.60">)</text></g>
<g font-size="9.6" font-weight="bold" fill="#000" stroke="#000" stroke-width="0.3"><text x="341.80" y="232.60">(</text><text x="348.48" y="233.3" text-anchor="middle">d</text><text x="352.02" y="232.60">)</text></g>
</svg>
</body></html>
